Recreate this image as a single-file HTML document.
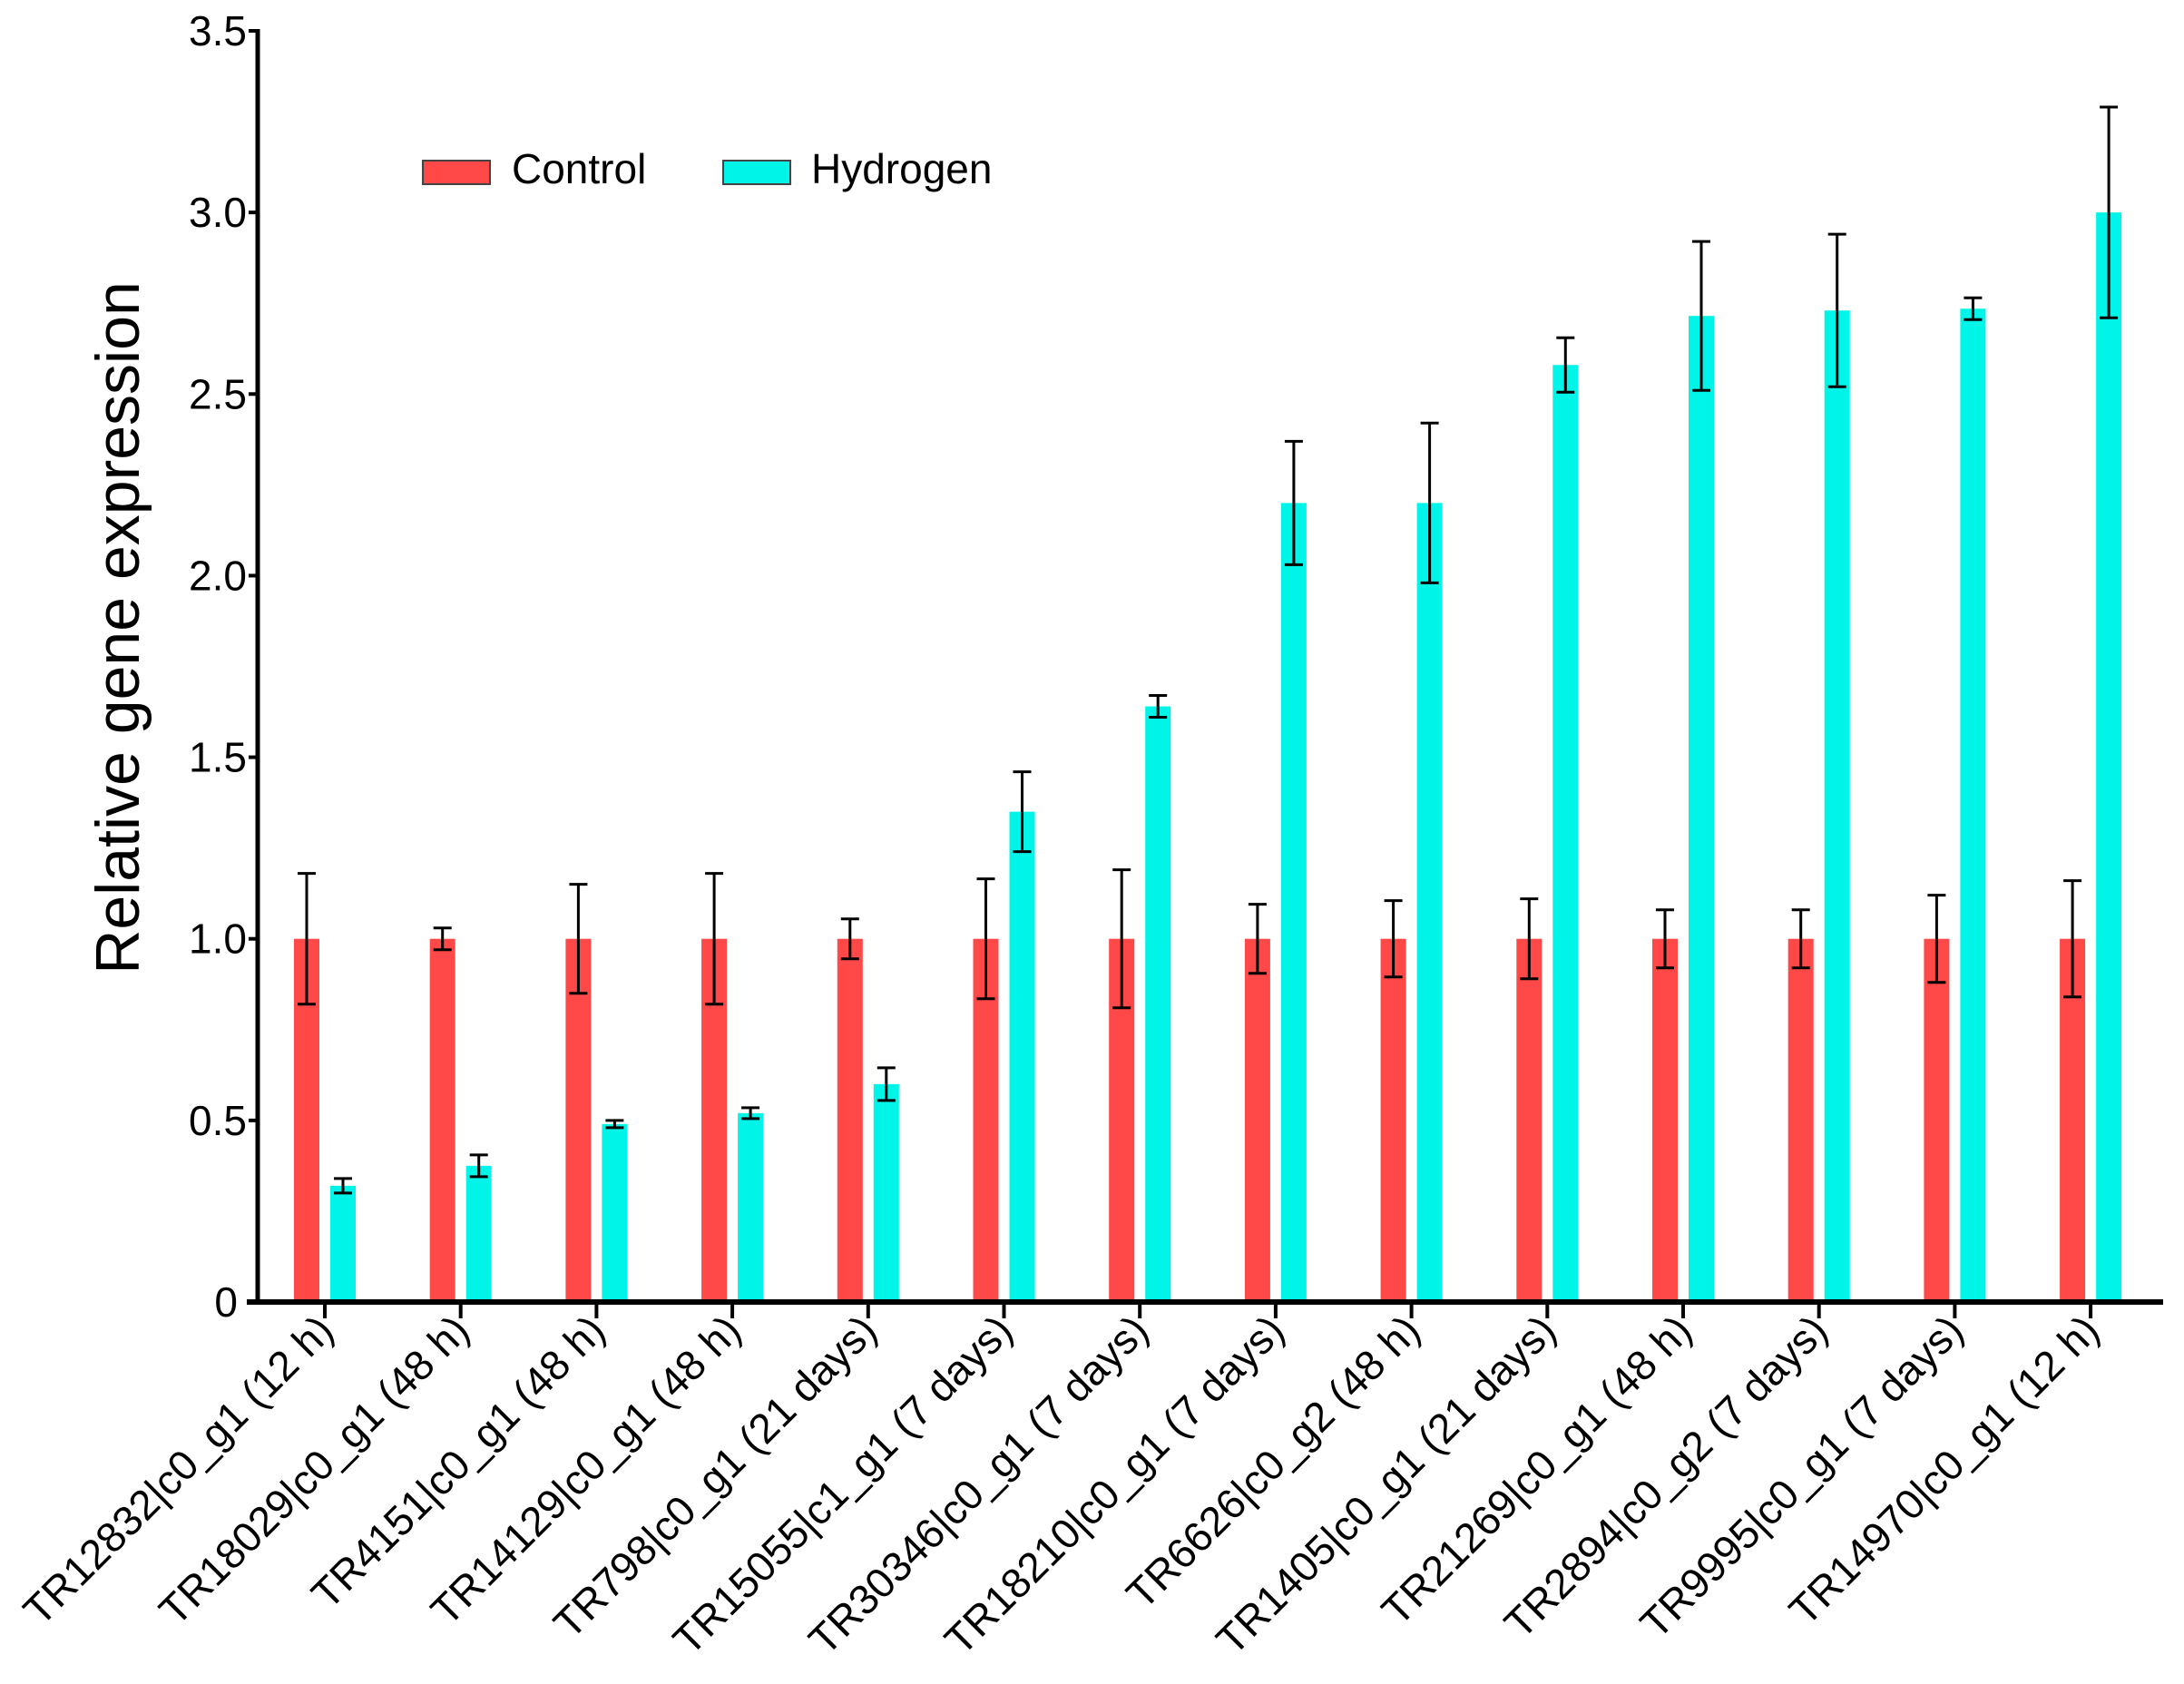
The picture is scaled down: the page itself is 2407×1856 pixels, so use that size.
<!DOCTYPE html>
<html><head><meta charset="utf-8"><style>
html,body{margin:0;padding:0;background:#fff;}
svg{display:block;font-family:"Liberation Sans",Arial,sans-serif;}
</style></head><body>
<svg id="chart" width="2407" height="1856" viewBox="0 0 2407 1856">
<g id="bars"></g>
<g id="axes"></g>
<text transform="translate(153,692) rotate(-90)" text-anchor="middle" font-size="68" fill="#000">Relative gene expression</text>
<g>
  <rect x="466" y="177" width="74" height="26" fill="#ff4848" stroke="#444" stroke-width="2"/>
  <text x="564" y="202" font-size="46" fill="#000">Control</text>
  <rect x="797" y="177" width="74" height="26" fill="#00f5e8" stroke="#444" stroke-width="2"/>
  <text x="894" y="202" font-size="46" fill="#000">Hydrogen</text>
</g>
</svg>
<script>
const categories = ["TR12832|c0_g1 (12 h)","TR18029|c0_g1 (48 h)","TR4151|c0_g1 (48 h)","TR14129|c0_g1 (48 h)","TR798|c0_g1 (21 days)","TR15055|c1_g1 (7 days)","TR30346|c0_g1 (7 days)","TR18210|c0_g1 (7 days)","TR6626|c0_g2 (48 h)","TR1405|c0_g1 (21 days)","TR21269|c0_g1 (48 h)","TR2894|c0_g2 (7 days)","TR9995|c0_g1 (7 days)","TR14970|c0_g1 (12 h)"];
const controlValues = [1,1,1,1,1,1,1,1,1,1,1,1,1,1];
const controlErrors = [0.18,0.03,0.15,0.18,0.055,0.165,0.19,0.095,0.105,0.11,0.08,0.08,0.12,0.16];
const hydrogenValues = [0.32,0.375,0.49,0.52,0.6,1.35,1.64,2.2,2.2,2.58,2.715,2.73,2.735,3.0];
const hydrogenErrors = [0.02,0.03,0.01,0.015,0.045,0.11,0.03,0.17,0.22,0.075,0.205,0.21,0.03,0.29];
const yTicks = [0,0.5,1.0,1.5,2.0,2.5,3.0,3.5];
const yTickLabels = ["0","0.5","1.0","1.5","2.0","2.5","3.0","3.5"];

const NS="http://www.w3.org/2000/svg";
const X0=284, Y0=1435, YTOP=34, YMAX=3.5, XEND=2384;
const step=149.7, firstTick=358, barW=28, off=20;
function yScale(v){return Y0-(v/YMAX)*(Y0-YTOP);}
function xScale(i){return firstTick+i*step;}
function mk(tag,attrs,parent){const e=document.createElementNS(NS,tag);for(const k in attrs)e.setAttribute(k,attrs[k]);parent.appendChild(e);return e;}
const bars=document.getElementById('bars'), axes=document.getElementById('axes');

function drawBar(i,v,err,color,dx,name){
  const cx=xScale(i)+dx;
  const r=mk('rect',{x:cx-barW/2,y:yScale(v),width:barW,height:Y0-yScale(v),fill:color},bars);
  
  
  const g=mk('g',{stroke:'#000','stroke-width':3},bars);
  
  
  const yt=yScale(v+err), yb=yScale(v-err);
  mk('line',{x1:cx,x2:cx,y1:yt,y2:yb},g);
  mk('line',{x1:cx-10,x2:cx+10,y1:yt,y2:yt},g);
  mk('line',{x1:cx-10,x2:cx+10,y1:yb,y2:yb},g);
}
categories.forEach((c,i)=>{
  drawBar(i,controlValues[i],controlErrors[i],'#ff4848',-off,'control');
  drawBar(i,hydrogenValues[i],hydrogenErrors[i],'#00f5e8',off,'hydrogen');
});

const ya=mk('line',{x1:X0,x2:X0,y1:YTOP-2,y2:Y0+3,stroke:'#000','stroke-width':5},axes);


const xa=mk('line',{x1:X0-12,x2:XEND,y1:Y0,y2:Y0,stroke:'#000','stroke-width':6},axes);


yTicks.forEach((t,i)=>{
  const y=yScale(t);
  mk('line',{x1:X0-10,x2:X0,y1:y,y2:y,stroke:'#000','stroke-width':4},axes);
  const tx=mk('text',{x:i===0?262:272,y:y+16,'text-anchor':'end','font-size':46,fill:'#000'},axes);
  tx.textContent=yTickLabels[i];
  
  
});
categories.forEach((c,i)=>{
  const x=xScale(i);
  mk('line',{x1:x,x2:x,y1:Y0,y2:Y0+18,stroke:'#000','stroke-width':4},axes);
  const tx=mk('text',{transform:'translate('+(x+12)+','+(Y0+34)+') rotate(-45)','text-anchor':'end','font-size':46,fill:'#000'},axes);
  tx.textContent=c;
  
  
});
</script>
</body></html>
